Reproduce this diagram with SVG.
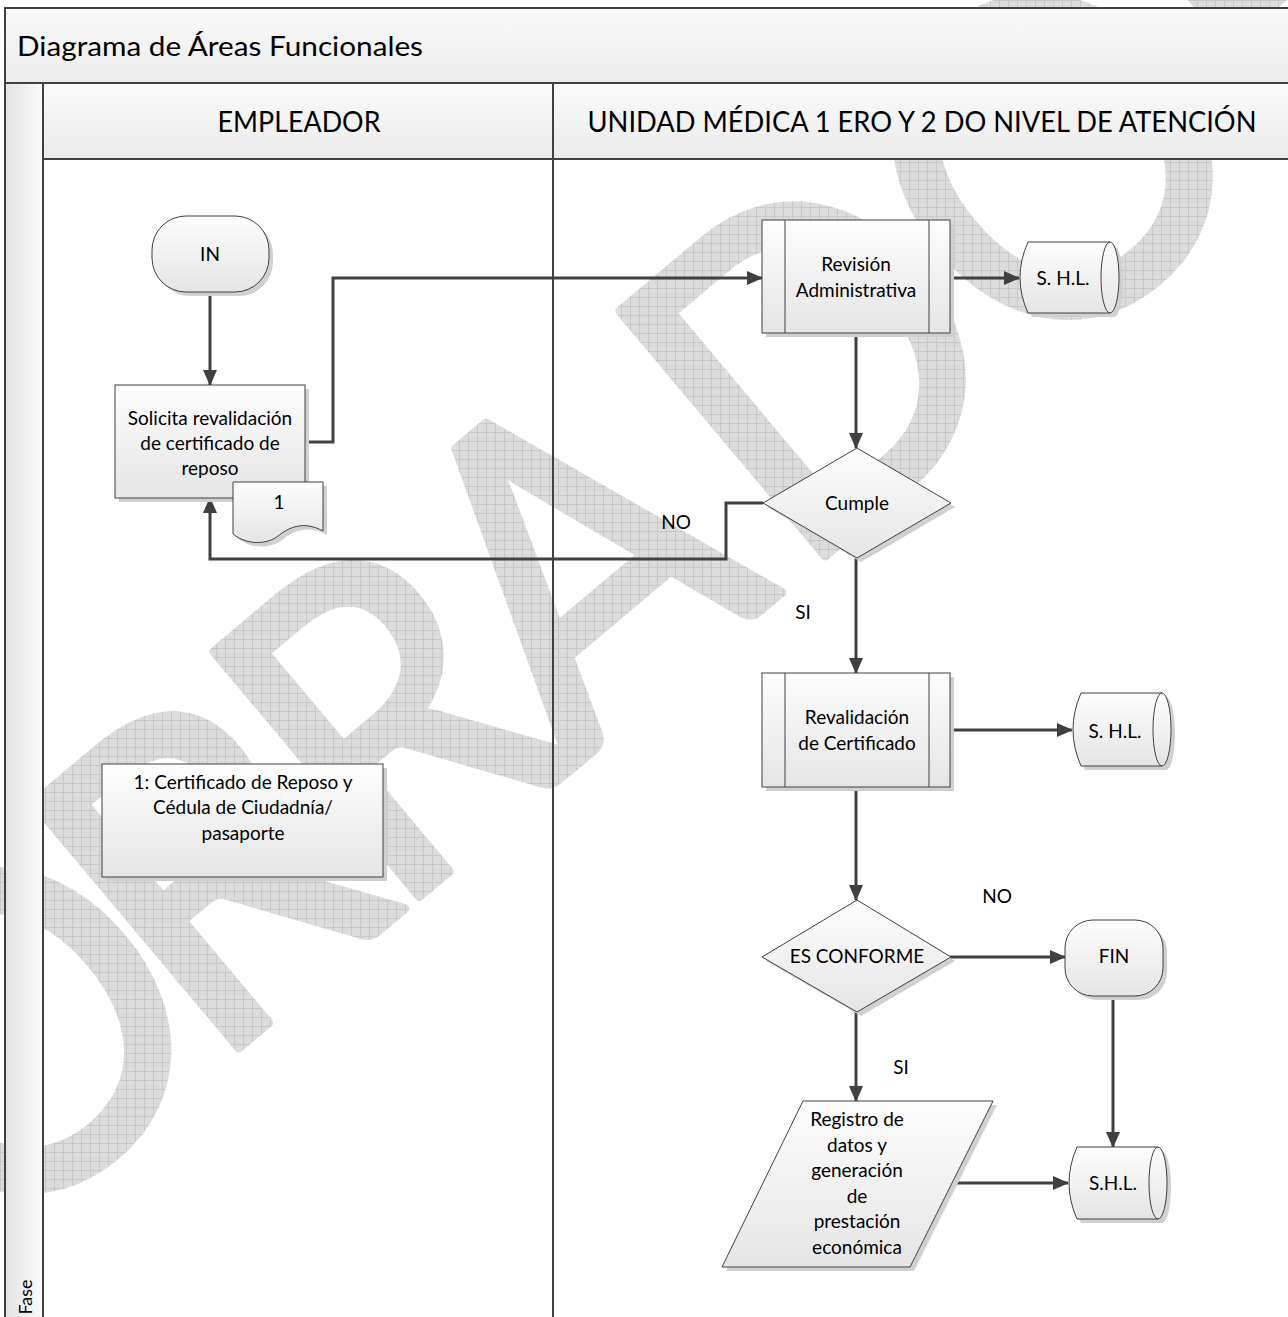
<svg xmlns="http://www.w3.org/2000/svg" width="1288" height="1317" viewBox="0 0 1288 1317">
<defs>
<style>
.t{font-family:Lato,"Liberation Sans",sans-serif;font-size:19px;fill:#000;text-anchor:middle}
.h{font-family:Lato,"Liberation Sans",sans-serif;fill:#000}
.n{stroke:#404040;stroke-width:1;fill:url(#g)}
.s{fill:#d0d0d0}
.c{fill:none;stroke:#404040;stroke-width:3;marker-end:url(#ah)}
.ln{stroke:#404040;stroke-width:2;fill:none}
</style>
<linearGradient id="g" x1="0" y1="0" x2="0" y2="1"><stop offset="0" stop-color="#fdfdfd"/><stop offset="1" stop-color="#e5e5e5"/></linearGradient>
<linearGradient id="hg" x1="0" y1="0" x2="0" y2="1"><stop offset="0" stop-color="#fafafa"/><stop offset="1" stop-color="#ebebeb"/></linearGradient>
<linearGradient id="pg" x1="0" y1="0" x2="1" y2="0"><stop offset="0" stop-color="#e2e2e2"/><stop offset="1" stop-color="#fbfbfb"/></linearGradient>
<marker id="ah" markerWidth="16" markerHeight="14" refX="15" refY="7" orient="auto" markerUnits="userSpaceOnUse"><path d="M0,0 L16,7 L0,14 z" fill="#404040"/></marker>
<pattern id="wp" width="9" height="9" patternUnits="userSpaceOnUse"><rect width="9" height="9" fill="#dcdcdc"/><path d="M0 .5H9M.5 0V9" stroke="#c8c8c8" stroke-width="1"/></pattern>
<mask id="wm" maskUnits="userSpaceOnUse" x="0" y="0" width="1288" height="1317">
<text transform="translate(570,770) rotate(-40) scale(0.92,1)" x="-1087 -826 -511 -255 0 321 652 1016" y="0" font-family="Lato,'Liberation Sans',sans-serif" font-size="446" fill="#fff" stroke="#fff" stroke-width="9" stroke-linejoin="round">BORRADOR</text>
</mask>
</defs>
<rect width="1288" height="1317" fill="#fff"/>
<g id="watermark"><rect width="1288" height="1317" fill="url(#wp)" mask="url(#wm)"/></g>

<g id="frame">
<rect x="5" y="8" width="1290" height="75" fill="url(#hg)"/>
<rect x="5" y="83" width="38" height="1240" fill="url(#pg)"/>
<rect x="43" y="83" width="510" height="76" fill="url(#hg)"/>
<rect x="553" y="83" width="740" height="76" fill="url(#hg)"/>
<path class="ln" d="M5 1317V8H1290M5 83H1290M43 159H1290M43 83V1317M553 83V1317"/>
<text class="h" x="17" y="56" font-size="27" textLength="406" lengthAdjust="spacingAndGlyphs">Diagrama de Áreas Funcionales</text>
<text class="h" x="299" y="132" font-size="28" text-anchor="middle" textLength="163" lengthAdjust="spacingAndGlyphs">EMPLEADOR</text>
<text class="h" x="922" y="132" font-size="28" text-anchor="middle" textLength="669" lengthAdjust="spacingAndGlyphs">UNIDAD MÉDICA 1 ERO Y 2 DO NIVEL DE ATENCIÓN</text>
<text class="h" transform="translate(32,1297) rotate(-90)" font-size="18" text-anchor="middle">Fase</text>
</g>

<g id="connectors">
<path class="c" d="M210 291V385"/>
<path class="c" d="M305 442H333V278H762"/>
<path class="c" d="M950 278H1019"/>
<path class="c" d="M856 332V448"/>
<path class="c" d="M763 503H726V559H210V498"/>
<path class="c" d="M856 558V673"/>
<path class="c" d="M950 730H1072"/>
<path class="c" d="M856 787V900"/>
<path class="c" d="M950 957H1065"/>
<path class="c" d="M856 1012V1101"/>
<path class="c" d="M1113 995V1147"/>
<path class="c" d="M952 1183H1068"/>
<text class="t" x="676" y="529">NO</text>
<text class="t" x="803" y="619">SI</text>
<text class="t" x="997" y="903">NO</text>
<text class="t" x="901" y="1074">SI</text>
</g>

<g id="n-in">
<rect class="s" x="156" y="220" width="117" height="76" rx="34"/>
<rect class="n" x="152" y="216" width="117" height="76" rx="34"/>
<text class="t" x="210" y="261">IN</text>
</g>

<g id="n-solicita">
<rect class="s" x="119" y="389" width="190" height="113"/>
<rect class="n" x="115" y="385" width="190" height="113"/>
<text class="t" x="210" y="425">Solicita revalidación</text>
<text class="t" x="210" y="450">de certificado de</text>
<text class="t" x="210" y="475">reposo</text>
</g>

<g id="n-doc1">
<path class="s" transform="translate(4,4)" d="M233 482H323V531C303 520 288 528 278 536C268 544 248 546 233 534Z"/>
<path class="n" d="M233 482H323V531C303 520 288 528 278 536C268 544 248 546 233 534Z"/>
<text class="t" x="279" y="509">1</text>
</g>

<g id="n-revision">
<rect class="s" x="766" y="224" width="188" height="113"/>
<rect class="n" x="762" y="220" width="188" height="113"/>
<path d="M785 220V333M929 220V333" stroke="#404040" stroke-width="1"/>
<text class="t" x="856" y="271">Revisión</text>
<text class="t" x="856" y="297">Administrativa</text>
</g>

<g id="n-shl1">
<path class="s" transform="translate(4,4)" d="M1028 242H1110A9 35.5 0 0 1 1110 313H1028Q1012 277.5 1028 242Z"/>
<path class="n" d="M1028 242H1110A9 35.5 0 0 1 1110 313H1028Q1012 277.5 1028 242Z"/>
<path d="M1110 242A9 35.5 0 0 0 1110 313" fill="none" stroke="#404040" stroke-width="1"/>
<text class="t" x="1063" y="285">S. H.L.</text>
</g>

<g id="n-cumple">
<path class="s" transform="translate(4,4)" d="M857 448L951 503L857 558L763 503Z"/>
<path class="n" d="M857 448L951 503L857 558L763 503Z"/>
<text class="t" x="857" y="510">Cumple</text>
</g>

<g id="n-revalidacion">
<rect class="s" x="766" y="677" width="188" height="114"/>
<rect class="n" x="762" y="673" width="188" height="114"/>
<path d="M785 673V787M929 673V787" stroke="#404040" stroke-width="1"/>
<text class="t" x="857" y="724">Revalidación</text>
<text class="t" x="857" y="750">de Certificado</text>
</g>

<g id="n-shl2">
<path class="s" transform="translate(4,4)" d="M1081 693H1162A9 36.5 0 0 1 1162 766H1081Q1065 729.5 1081 693Z"/>
<path class="n" d="M1081 693H1162A9 36.5 0 0 1 1162 766H1081Q1065 729.5 1081 693Z"/>
<path d="M1162 693A9 36.5 0 0 0 1162 766" fill="none" stroke="#404040" stroke-width="1"/>
<text class="t" x="1115" y="738">S. H.L.</text>
</g>

<g id="n-nota">
<rect class="s" x="106" y="768" width="281" height="113"/>
<rect class="n" x="102" y="764" width="281" height="113"/>
<text class="t" x="243" y="789">1: Certificado de Reposo y</text>
<text class="t" x="243" y="814">Cédula de Ciudadnía/</text>
<text class="t" x="243" y="840">pasaporte</text>
</g>

<g id="n-esconforme">
<path class="s" transform="translate(4,4)" d="M857 900L951 957L857 1012L762 957Z"/>
<path class="n" d="M857 900L951 957L857 1012L762 957Z"/>
<text class="t" x="857" y="963">ES CONFORME</text>
</g>

<g id="n-fin">
<rect class="s" x="1069" y="924" width="98" height="76" rx="28"/>
<rect class="n" x="1065" y="920" width="98" height="76" rx="28"/>
<text class="t" x="1114" y="963">FIN</text>
</g>

<g id="n-registro">
<path class="s" transform="translate(4,4)" d="M803 1101H993L910 1267H722Z"/>
<path class="n" d="M803 1101H993L910 1267H722Z"/>
<text class="t" x="857" y="1126">Registro de</text>
<text class="t" x="857" y="1152">datos y</text>
<text class="t" x="857" y="1177">generación</text>
<text class="t" x="857" y="1203">de</text>
<text class="t" x="857" y="1228">prestación</text>
<text class="t" x="857" y="1254">económica</text>
</g>

<g id="n-shl3">
<path class="s" transform="translate(4,4)" d="M1077 1147H1158A9 36 0 0 1 1158 1219H1077Q1061 1183 1077 1147Z"/>
<path class="n" d="M1077 1147H1158A9 36 0 0 1 1158 1219H1077Q1061 1183 1077 1147Z"/>
<path d="M1158 1147A9 36 0 0 0 1158 1219" fill="none" stroke="#404040" stroke-width="1"/>
<text class="t" x="1113" y="1190">S.H.L.</text>
</g>
</svg>
